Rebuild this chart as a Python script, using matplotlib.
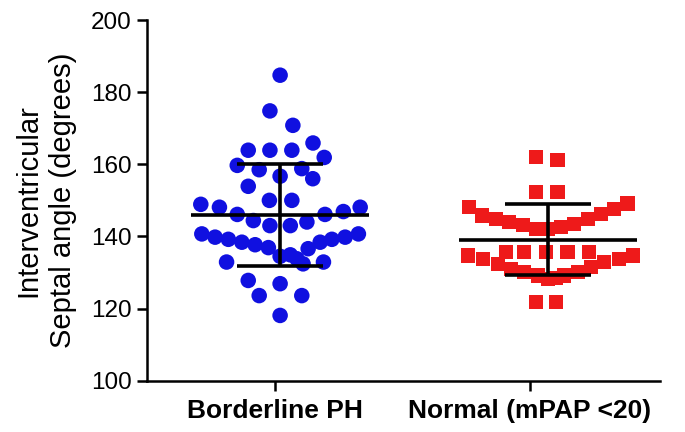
import matplotlib

matplotlib.use("Agg")
import matplotlib.pyplot as plt

# group labels, tick positions and where each cloud is centred
groups = ["Borderline PH", "Normal (mPAP <20)"]
tick_pos = [0.0, 1.0]
centres = [0.02, 1.07]

# Borderline PH: septal angle (degrees) and horizontal scatter offset
bph_values = [
    184.7, 174.8, 170.8, 163.9, 163.9, 163.9, 165.9, 161.9, 159.7, 158.5,
    158.8, 156.7, 156.0, 153.9, 150.0, 150.0, 148.9, 148.1, 148.1, 146.9,
    146.1, 146.1, 144.4, 144.0, 143.0, 143.0,
    140.7, 139.8, 139.2, 138.4, 137.7, 136.9, 134.5, 134.9, 133.8, 132.4,
    136.6, 138.4, 139.2, 139.8, 140.7, 132.9, 132.9,
    127.8, 126.9, 123.6, 123.6, 118.1,
]
bph_offsets = [
    0.0, -0.04, 0.05, -0.125, -0.04, 0.046, 0.129, 0.173, -0.168, -0.082,
    0.085, 0.0, 0.128, -0.125, -0.042, 0.046, -0.311, -0.238, 0.314, 0.248,
    -0.168, 0.176, -0.105, 0.105, -0.04, 0.04,
    -0.307, -0.255, -0.203, -0.15, -0.098, -0.046, 0.0, 0.04, 0.066, 0.09,
    0.11, 0.157, 0.203, 0.255, 0.307, -0.21, 0.17,
    -0.125, 0.0, -0.082, 0.085, 0.0,
]

# Normal (mPAP <20)
norm_values = [
    162.0, 161.1, 152.3, 152.3,
    148.1, 145.8, 144.9, 144.0, 143.1, 142.1, 142.1,
    149.1, 147.7, 146.3, 144.9, 143.5, 142.6,
    135.6, 135.6, 135.6, 135.6, 135.6,
    134.7, 133.8, 132.4, 131.0, 130.1, 129.2, 128.2,
    134.7, 133.8, 132.9, 131.5, 130.1, 129.2, 128.5,
    121.8, 121.8,
]
norm_offsets = [
    -0.047, 0.038, -0.047, 0.038,
    -0.309, -0.257, -0.204, -0.152, -0.099, -0.047, 0.0,
    0.312, 0.26, 0.208, 0.156, 0.103, 0.051,
    -0.165, -0.093, -0.008, 0.077, 0.162,
    -0.314, -0.255, -0.196, -0.145, -0.093, -0.04, 0.0,
    0.333, 0.28, 0.221, 0.169, 0.117, 0.064, 0.03,
    -0.047, 0.031,
]

# mean and SD drawn
means = [146.0, 139.1]
sds = [14.2, 9.8]

plt.rcParams["font.family"] = ["Liberation Sans", "DejaVu Sans"]

fig = plt.figure(figsize=(6.85, 4.32), dpi=100)
ax = fig.add_axes([0.2146, 0.1187, 0.749, 0.835])

ax.scatter([centres[0] + o for o in bph_offsets], bph_values,
           s=125, marker="o", color="#1010e0", edgecolors="none", zorder=2)
ax.scatter([centres[1] + o for o in norm_offsets], norm_values,
           s=105, marker="s", color="#ee1a1a", edgecolors="none", zorder=2)

for c, m, sd in zip(centres, means, sds):
    ax.hlines(m, c - 0.35, c + 0.35, color="black", linewidth=2.6, zorder=3)
    ax.vlines(c, m - sd, m + sd, color="black", linewidth=2.6, zorder=3)
    ax.hlines([m - sd, m + sd], c - 0.17, c + 0.17, color="black", linewidth=2.6, zorder=3)

ax.set_xlim(-0.502, 1.51)
ax.set_ylim(100, 200)
ax.set_yticks([100, 120, 140, 160, 180, 200])
ax.set_xticks(tick_pos)
ax.set_xticklabels(groups, fontsize=19, fontweight="bold")
ax.tick_params(axis="y", labelsize=17.5, length=7, width=1.8, pad=4)
ax.tick_params(axis="x", length=7, width=1.8, pad=6)

for side in ["top", "right"]:
    ax.spines[side].set_visible(False)
for side in ["left", "bottom"]:
    ax.spines[side].set_linewidth(1.8)

ax.set_ylabel("Interventricular\nSeptal angle (degrees)", fontsize=21, labelpad=10,
              linespacing=1.3)

fig.savefig("out.png", dpi=100)
